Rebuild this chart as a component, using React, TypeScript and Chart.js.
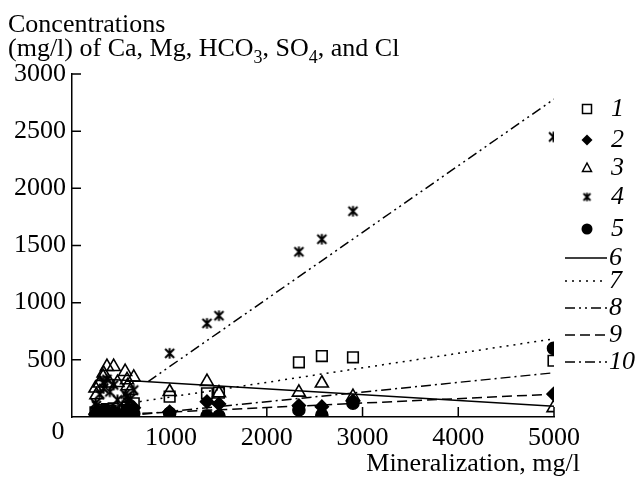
import React, { useEffect, useRef } from 'react';
import { Chart, registerables } from 'chart.js';

Chart.register(...registerables);

// Mineralization (mg/l) of each water sample
const mineralization = [210, 220, 255, 290, 295, 330, 360, 400, 440, 520, 540, 545, 575, 610, 985, 1375, 1500, 2335, 2575, 2900, 4995];
// 1: Ca
const caValues = [40, 30, 50, 60, 45, 70, 55, 75, 50, 60, 80, 90, 60, 120, 178, 207, 213, 478, 533, 522, 492];
// 2: Mg
const mgValues = [25, 20, 30, 40, 30, 45, 35, 50, 30, 40, 60, 70, 45, 80, 45, 134, 114, 100, 90, 140, 201];
// 3: HCO3
const hco3Values = [251, 192, 295, 352, 382, 440, 295, 440, 300, 396, 324, 271, 230, 347, 221, 309, 210, 215, 295, 178, 80];
// 4: SO4
const so4Values = [120, 100, 200, 300, 250, 330, 220, 280, 150, 200, 178, 130, 160, 236, 557, 819, 886, 1445, 1555, 1800, 2450];
// 5: Cl
const clValues = [15, 10, 20, 25, 15, 30, 20, 25, 15, 20, 30, 25, 20, 30, 32, 9, 9, 62, 17, 120, 600];

// Trend lines (6-10): end points
const trendHco3X = [250, 5000];
const trendHco3Y = [335, 95];
const trendCaX = [600, 5000];
const trendCaY = [125, 684];
const trendSo4X = [760, 5000];
const trendSo4Y = [310, 2780];
const trendMgX = [700, 5000];
const trendMgY = [32, 200];
const trendClX = [700, 5000];
const trendClY = [25, 387];

const xTicks = [1000, 2000, 3000, 4000, 5000];
const yTicks = [500, 1000, 1500, 2000, 2500, 3000];

const legendMarkers = ['1', '2', '3', '4', '5'];
const legendLines = ['6', '7', '8', '9', '10'];

const FONT = '"Liberation Serif", "Times New Roman", serif';
const FS = 26;

function pts(xs: number[], ys: number[]) {
  return xs.map((x, i) => ({ x, y: ys[i] }));
}

function makeAsterisk(size: number, lw: number): HTMLCanvasElement {
  const c = document.createElement('canvas');
  c.width = size;
  c.height = size;
  const g = c.getContext('2d')!;
  g.strokeStyle = '#000';
  g.lineWidth = lw;
  const m = size / 2;
  const a = 1.2;
  const b = size - 1.2;
  g.beginPath();
  g.moveTo(m, a); g.lineTo(m, b);
  g.moveTo(a + 0.8, a + 0.8); g.lineTo(b - 0.8, b - 0.8);
  g.moveTo(b - 0.8, a + 0.8); g.lineTo(a + 0.8, b - 0.8);
  g.stroke();
  return c;
}

const DASH_SOLID: number[] = [];
const DASH_DOT = [2, 5];
const DASH_DASHDOTDOT = [10, 4, 2, 4, 2, 4];
const DASH_DASH = [10, 5];
const DASH_DASHDOT = [10, 4, 2, 4];

export default function App() {
  const ref = useRef<HTMLCanvasElement | null>(null);

  useEffect(() => {
    if (!ref.current) return;
    const asterisk = makeAsterisk(13, 2);
    const asteriskSmall = makeAsterisk(11, 1.8);

    const pointBase = {
      showLine: false,
      borderColor: '#000',
      borderWidth: 1.6,
    };
    const lineBase = {
      showLine: true,
      pointRadius: 0,
      borderColor: '#000',
      borderWidth: 1.5,
      fill: false,
    };

    const overlay = {
      id: 'overlay',
      afterDraw(chart: any) {
        const ctx: CanvasRenderingContext2D = chart.ctx;
        const xs = chart.scales.x;
        const ys = chart.scales.y;
        const area = chart.chartArea;
        ctx.save();
        ctx.strokeStyle = '#000';
        ctx.fillStyle = '#000';
        ctx.lineWidth = 1.5;
        // inner ticks
        ctx.beginPath();
        yTicks.forEach((v) => {
          const py = ys.getPixelForValue(v);
          ctx.moveTo(area.left, py);
          ctx.lineTo(area.left + 9, py);
        });
        xTicks.forEach((v) => {
          const px = xs.getPixelForValue(v);
          ctx.moveTo(px, area.bottom);
          ctx.lineTo(px, area.bottom - 10);
        });
        ctx.stroke();

        // origin label
        ctx.font = `${FS}px ${FONT}`;
        ctx.textAlign = 'center';
        ctx.textBaseline = 'middle';
        ctx.fillText('0', 58, 432);

        // y-axis title with subscripts
        ctx.textAlign = 'left';
        ctx.textBaseline = 'alphabetic';
        ctx.font = `${FS}px ${FONT}`;
        ctx.fillText('Concentrations', 8, 32);
        let x = 8;
        const base = 56;
        const parts: [string, boolean][] = [
          ['(mg/l) of Ca, Mg, HCO', false],
          ['3', true],
          [', SO', false],
          ['4', true],
          [', and Cl', false],
        ];
        parts.forEach(([t, sub]) => {
          ctx.font = sub ? `18px ${FONT}` : `${FS}px ${FONT}`;
          ctx.fillText(t, x, sub ? base + 7 : base);
          x += ctx.measureText(t).width;
        });

        // x-axis title
        ctx.font = `${FS}px ${FONT}`;
        ctx.textAlign = 'right';
        ctx.fillText('Mineralization, mg/l', 580, 471);

        // legend: markers
        const mx = 587;
        const markerRows = [109, 140, 168, 197, 229];
        ctx.lineWidth = 1.5;
        markerRows.forEach((py, i) => {
          ctx.beginPath();
          if (i === 0) {
            ctx.strokeRect(mx - 4.5, py - 4.5, 9, 9);
          } else if (i === 1) {
            ctx.moveTo(mx, py - 5.5);
            ctx.lineTo(mx + 5.5, py);
            ctx.lineTo(mx, py + 5.5);
            ctx.lineTo(mx - 5.5, py);
            ctx.closePath();
            ctx.fill();
          } else if (i === 2) {
            ctx.moveTo(mx, py - 5);
            ctx.lineTo(mx + 4.5, py + 3.5);
            ctx.lineTo(mx - 4.5, py + 3.5);
            ctx.closePath();
            ctx.stroke();
          } else if (i === 3) {
            ctx.drawImage(asteriskSmall, mx - 5.5, py - 5.5);
          } else {
            ctx.arc(mx, py, 5.5, 0, Math.PI * 2);
            ctx.fill();
          }
        });
        ctx.font = `italic ${FS}px ${FONT}`;
        ctx.textAlign = 'left';
        ctx.textBaseline = 'middle';
        markerRows.forEach((py, i) => {
          ctx.fillText(legendMarkers[i], 611, py);
        });

        // legend: lines
        const lineRows = [258, 281, 308, 335, 362];
        const dashes = [DASH_SOLID, DASH_DOT, DASH_DASHDOTDOT, DASH_DASH, DASH_DASHDOT];
        ctx.lineWidth = 1.5;
        lineRows.forEach((py, i) => {
          ctx.setLineDash(dashes[i]);
          ctx.beginPath();
          ctx.moveTo(565, py);
          ctx.lineTo(607, py);
          ctx.stroke();
        });
        ctx.setLineDash([]);
        lineRows.forEach((py, i) => {
          ctx.fillText(legendLines[i], 609, py);
        });
        ctx.restore();
      },
    };

    const chart = new Chart(ref.current, {
      type: 'scatter',
      data: {
        datasets: [
          { ...pointBase, label: '5', data: pts(mineralization, clValues), pointStyle: 'circle', pointRadius: 6, backgroundColor: '#000' },
          { ...pointBase, label: '2', data: pts(mineralization, mgValues), pointStyle: 'rectRot', pointRadius: 6.5, backgroundColor: '#000' },
          { ...pointBase, label: '1', data: pts(mineralization, caValues), pointStyle: 'rect', pointRadius: 7.5, backgroundColor: 'rgba(0,0,0,0)' },
          { ...pointBase, label: '3', data: pts(mineralization, hco3Values), pointStyle: 'triangle', pointRadius: 7.5, backgroundColor: 'rgba(0,0,0,0)' },
          { ...pointBase, label: '4', data: pts(mineralization, so4Values), pointStyle: asterisk, pointRadius: 6.5, backgroundColor: '#000' },
          { ...lineBase, label: '6', data: pts(trendHco3X, trendHco3Y), borderDash: DASH_SOLID },
          { ...lineBase, label: '7', data: pts(trendCaX, trendCaY), borderDash: DASH_DOT },
          { ...lineBase, label: '8', data: pts(trendSo4X, trendSo4Y), borderDash: DASH_DASHDOTDOT },
          { ...lineBase, label: '9', data: pts(trendMgX, trendMgY), borderDash: DASH_DASH },
          { ...lineBase, label: '10', data: pts(trendClX, trendClY), borderDash: DASH_DASHDOT },
        ] as any,
      },
      options: {
        responsive: false,
        animation: false,
        layout: { padding: { top: 74, right: 87, bottom: 0, left: 0 } },
        plugins: {
          legend: { display: false },
          tooltip: { enabled: false },
          title: { display: false },
        },
        scales: {
          x: {
            type: 'linear',
            min: -35,
            max: 5000,
            afterBuildTicks: (s: any) => { s.ticks = xTicks.map((v) => ({ value: v })); },
            afterFit: (s: any) => { s.height = 62; },
            grid: { display: true, drawOnChartArea: false, drawTicks: false },
            border: { display: true, color: '#000', width: 1.5 },
            ticks: {
              color: '#000',
              font: { family: FONT, size: FS },
              padding: 6,
              maxRotation: 0,
              autoSkip: false,
              callback: (v: any) => String(v),
            },
          },
          y: {
            type: 'linear',
            min: 0,
            max: 3000,
            afterBuildTicks: (s: any) => { s.ticks = yTicks.map((v) => ({ value: v })); },
            afterFit: (s: any) => { s.width = 72; },
            grid: { display: true, drawOnChartArea: false, drawTicks: false },
            border: { display: true, color: '#000', width: 1.5 },
            ticks: {
              color: '#000',
              font: { family: FONT, size: FS },
              padding: 6,
              autoSkip: false,
              callback: (v: any) => String(v),
            },
          },
        },
      },
      plugins: [overlay],
    } as any);

    return () => chart.destroy();
  }, []);

  return (
    <div style={{ position: 'fixed', left: 0, top: 0, width: 641, height: 479, background: '#fff' }}>
      <canvas ref={ref} width={641} height={479} style={{ display: 'block', width: 641, height: 479 }} />
    </div>
  );
}
